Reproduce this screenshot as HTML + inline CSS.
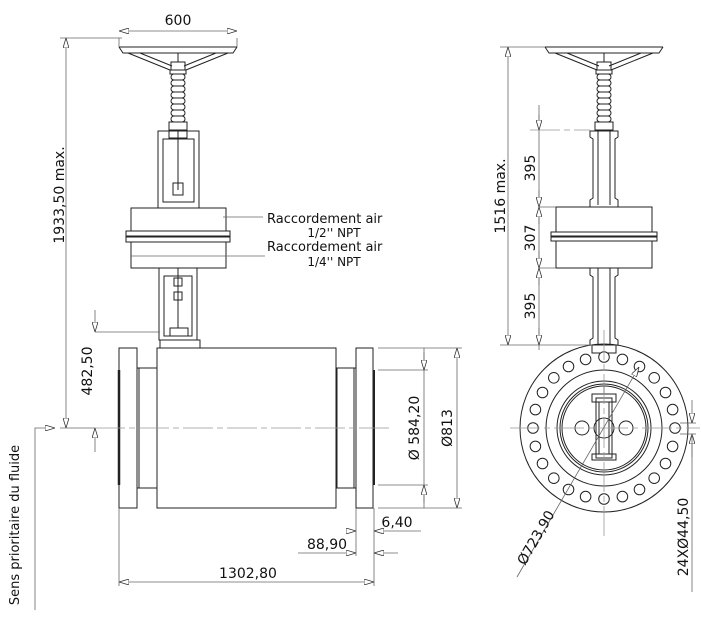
<!DOCTYPE html>
<html><head><meta charset="utf-8"><style>
html,body{margin:0;padding:0;background:#fff;}
svg{display:block;font-family:"DejaVu Sans","Liberation Sans",sans-serif;}
text{fill:#111;font-size:14px;}
</style></head><body>
<svg width="702" height="624" viewBox="0 0 702 624" xmlns="http://www.w3.org/2000/svg">
<defs>
<marker id="a" viewBox="0 0 10 6" refX="10" refY="3" markerWidth="10" markerHeight="6" orient="auto-start-reverse" markerUnits="userSpaceOnUse"><path d="M0,0 L10,3 L0,6 Z" fill="#fff" stroke="#333" stroke-width="0.8"/></marker>
</defs>
<g stroke="#222" stroke-width="1" fill="none">
<line x1="119" y1="47" x2="237" y2="47"/>
<path d="M119,47 L123,53 L233,53 L237,47"/>
<path d="M128,53 L170,70 M228,53 L186,70 M140,53 L172,66 M216,53 L184,66"/>
<line x1="178" y1="53" x2="178" y2="62"/>
<rect x="171" y="62" width="14" height="8"/>
<rect x="170" y="70" width="16" height="4"/>
<rect x="171" y="74" width="14" height="6" rx="3"/><rect x="171" y="80" width="14" height="6" rx="3"/><rect x="171" y="86" width="14" height="6" rx="3"/><rect x="171" y="92" width="14" height="6" rx="3"/><rect x="171" y="98" width="14" height="6" rx="3"/><rect x="171" y="104" width="14" height="6" rx="3"/><rect x="171" y="110" width="14" height="6" rx="3"/><rect x="171" y="116" width="14" height="6" rx="3"/><rect x="169" y="122" width="18" height="8"/>
<path d="M158,208 L158,131 L199,131 L199,208"/>
<rect x="163" y="139" width="31" height="63"/>
<line x1="178" y1="131" x2="178" y2="190"/>
<rect x="173" y="183" width="10" height="12"/>
<rect x="169" y="130" width="18" height="8"/>
<rect x="131" y="208" width="95" height="23"/>
<rect x="126" y="231" width="104" height="5"/>
<rect x="126" y="237" width="104" height="5"/>
<rect x="131" y="242" width="95" height="26"/>
<path d="M159,268 L159,340 L197,340 L197,268"/>
<rect x="164" y="276" width="28" height="60"/>
<line x1="178" y1="268" x2="178" y2="328"/>
<rect x="174" y="292" width="8" height="8"/><rect x="174" y="278" width="8" height="8"/>
<rect x="170" y="328" width="18" height="8"/>
<rect x="160" y="340" width="40" height="8"/>
<rect x="119" y="348" width="18" height="160"/>
<line x1="119" y1="370" x2="119" y2="485" stroke-width="2.5"/>
<rect x="137" y="368" width="20" height="120"/>
<line x1="139" y1="368" x2="139" y2="488"/>
<rect x="157" y="348" width="179" height="160"/>
<rect x="337" y="368" width="19" height="120"/>
<line x1="354" y1="368" x2="354" y2="488"/>
<rect x="356" y="348" width="17" height="160"/>
<line x1="374" y1="370" x2="374" y2="485" stroke-width="2"/>

<line x1="545" y1="47" x2="663" y2="47"/>
<path d="M545,47 L549,53 L659,53 L663,47"/>
<path d="M555,53 L597,70 M653,53 L611,70 M567,53 L599,66 M641,53 L609,66"/>
<line x1="604" y1="53" x2="604" y2="62"/>
<rect x="597" y="62" width="14" height="8"/>
<rect x="596" y="70" width="16" height="4"/>
<rect x="597" y="74" width="14" height="6" rx="3"/><rect x="597" y="80" width="14" height="6" rx="3"/><rect x="597" y="86" width="14" height="6" rx="3"/><rect x="597" y="92" width="14" height="6" rx="3"/><rect x="597" y="98" width="14" height="6" rx="3"/><rect x="597" y="104" width="14" height="6" rx="3"/><rect x="597" y="110" width="14" height="6" rx="3"/><rect x="597" y="116" width="14" height="6" rx="3"/><rect x="595" y="122" width="18" height="8"/>
<path d="M590,207 L590,200 L593,198 L593,139 L590,137 L590,131 L618,131 L618,137 L615,139 L615,198 L618,200 L618,207"/>
<line x1="598" y1="131" x2="598" y2="205"/><line x1="610" y1="131" x2="610" y2="205"/>
<rect x="556" y="207" width="96" height="25"/>
<rect x="551" y="232" width="106" height="4"/>
<rect x="551" y="237" width="106" height="4"/>
<rect x="556" y="241" width="96" height="27"/>
<path d="M590,268 L590,275 L593,277 L593,338 L590,340 L590,345 L618,345 L618,340 L615,338 L615,277 L618,275 L618,268"/>
<line x1="598" y1="268" x2="598" y2="345"/><line x1="610" y1="268" x2="610" y2="345"/>
<rect x="592" y="345" width="24" height="8"/>
<circle cx="604" cy="428" r="84"/>
<circle cx="604" cy="428" r="58"/>
<circle cx="604" cy="428" r="47"/>
<circle cx="604" cy="428" r="44"/>
<circle cx="604" cy="428" r="42"/>
<rect x="596" y="398" width="16" height="60"/>
<rect x="599" y="402" width="10" height="52"/>
<rect x="592" y="394" width="24" height="8"/>
<rect x="592" y="454" width="24" height="6"/>
<circle cx="582" cy="428" r="7"/>
<circle cx="626" cy="428" r="7"/>
<circle cx="604" cy="428" r="10"/>
<line x1="604" y1="385" x2="604" y2="394"/>
</g>
<g stroke="#222" fill="#fff" stroke-width="1">
<circle cx="675" cy="428" r="5.3"/><circle cx="672.6" cy="446.4" r="5.3"/><circle cx="665.5" cy="463.5" r="5.3"/><circle cx="654.2" cy="478.2" r="5.3"/><circle cx="639.5" cy="489.5" r="5.3"/><circle cx="622.4" cy="496.6" r="5.3"/><circle cx="604" cy="499" r="5.3"/><circle cx="585.6" cy="496.6" r="5.3"/><circle cx="568.5" cy="489.5" r="5.3"/><circle cx="553.8" cy="478.2" r="5.3"/><circle cx="542.5" cy="463.5" r="5.3"/><circle cx="535.4" cy="446.4" r="5.3"/><circle cx="533" cy="428" r="5.3"/><circle cx="535.4" cy="409.6" r="5.3"/><circle cx="542.5" cy="392.5" r="5.3"/><circle cx="553.8" cy="377.8" r="5.3"/><circle cx="568.5" cy="366.5" r="5.3"/><circle cx="585.6" cy="359.4" r="5.3"/><circle cx="604" cy="357" r="5.3"/><circle cx="622.4" cy="359.4" r="5.3"/><circle cx="639.5" cy="366.5" r="5.3"/><circle cx="654.2" cy="377.8" r="5.3"/><circle cx="665.5" cy="392.5" r="5.3"/><circle cx="672.6" cy="409.6" r="5.3"/>
</g>

<g stroke="#999" stroke-width="0.8" fill="none" stroke-dasharray="30,4,6,4">
<line x1="95" y1="428" x2="390" y2="428"/>
<line x1="510" y1="428" x2="700" y2="428"/>
<line x1="604" y1="330" x2="604" y2="540"/>
<line x1="530" y1="130" x2="590" y2="130"/>
</g>

<g stroke="#666" stroke-width="0.8" fill="none">
<line x1="119" y1="38" x2="119" y2="47"/><line x1="237" y1="38" x2="237" y2="47"/>
<line x1="119" y1="31" x2="237" y2="31" marker-start="url(#a)" marker-end="url(#a)"/>
<line x1="60" y1="38" x2="122" y2="38"/>
<line x1="66" y1="38" x2="66" y2="428" marker-start="url(#a)" marker-end="url(#a)"/>
<line x1="60" y1="428" x2="95" y2="428"/>
<line x1="95" y1="332" x2="160" y2="332"/>
<line x1="95" y1="310" x2="95" y2="332" marker-end="url(#a)"/>
<line x1="95" y1="428" x2="95" y2="452" marker-start="url(#a)"/>
<polyline points="35,610 35,428 55,428" marker-end="url(#a)"/>
<line x1="378" y1="348" x2="462" y2="348"/>
<line x1="378" y1="508" x2="462" y2="508"/>
<line x1="378" y1="370" x2="428" y2="370"/>
<line x1="378" y1="485" x2="428" y2="485"/>
<line x1="424" y1="348" x2="424" y2="508"/>
<line x1="424" y1="352" x2="424" y2="370" marker-end="url(#a)"/>
<line x1="424" y1="503" x2="424" y2="485" marker-end="url(#a)"/>
<line x1="457" y1="348" x2="457" y2="508" marker-start="url(#a)" marker-end="url(#a)"/>
<line x1="119" y1="508" x2="119" y2="586"/>
<line x1="374" y1="508" x2="374" y2="586"/>
<line x1="356" y1="508" x2="356" y2="556"/>
<line x1="119" y1="582" x2="374" y2="582" marker-start="url(#a)" marker-end="url(#a)"/>
<line x1="298" y1="553" x2="356" y2="553" marker-end="url(#a)"/>
<line x1="374" y1="553" x2="398" y2="553" marker-start="url(#a)"/>
<line x1="348" y1="531" x2="356" y2="531" marker-end="url(#a)"/>
<line x1="374" y1="531" x2="421" y2="531" marker-start="url(#a)"/>
<line x1="223" y1="217" x2="263" y2="217"/>
<line x1="131" y1="256" x2="265" y2="256"/>
<line x1="500" y1="47" x2="545" y2="47"/>
<line x1="500" y1="345" x2="592" y2="345"/>
<line x1="508" y1="47" x2="508" y2="345" marker-start="url(#a)" marker-end="url(#a)"/>
<line x1="539" y1="105" x2="539" y2="350"/>
<line x1="539" y1="115" x2="539" y2="130" marker-end="url(#a)"/>
<line x1="539" y1="207" x2="556" y2="207"/>
<line x1="539" y1="268" x2="556" y2="268"/>
<line x1="539" y1="190" x2="539" y2="207" marker-end="url(#a)"/>
<line x1="539" y1="224" x2="539" y2="207" marker-end="url(#a)"/>
<line x1="539" y1="251" x2="539" y2="268" marker-end="url(#a)"/>
<line x1="539" y1="285" x2="539" y2="268" marker-end="url(#a)"/>
<line x1="539" y1="328" x2="539" y2="345" marker-end="url(#a)"/>
<line x1="639" y1="367" x2="517" y2="577" marker-start="url(#a)"/>
<line x1="680" y1="423" x2="696" y2="423"/><line x1="680" y1="434" x2="696" y2="434"/>
<line x1="692" y1="400" x2="692" y2="423" marker-end="url(#a)"/>
<line x1="692" y1="457" x2="692" y2="434" marker-end="url(#a)"/>
<line x1="692" y1="434" x2="692" y2="592"/>
</g>

<text x="178" y="25" text-anchor="middle">600</text>
<text transform="translate(64,195) rotate(-90)" text-anchor="middle">1933,50 max.</text>
<text transform="translate(92,371) rotate(-90)" text-anchor="middle">482,50</text>
<text transform="translate(19,525) rotate(-90)" text-anchor="middle" style="font-size:13px">Sens prioritaire du fluide</text>
<text x="267" y="223" style="font-size:13px">Raccordement air</text>
<text x="334" y="237" text-anchor="middle" style="font-size:12px">1/2'' NPT</text>
<text x="267" y="251" style="font-size:13px">Raccordement air</text>
<text x="334" y="266" text-anchor="middle" style="font-size:12px">1/4'' NPT</text>
<text transform="translate(419,428) rotate(-90)" text-anchor="middle">Ø 584,20</text>
<text transform="translate(452,428) rotate(-90)" text-anchor="middle">Ø813</text>
<text x="397" y="527" text-anchor="middle">6,40</text>
<text x="327" y="549" text-anchor="middle">88,90</text>
<text x="248" y="578" text-anchor="middle">1302,80</text>
<text transform="translate(505,196) rotate(-90)" text-anchor="middle">1516 max.</text>
<text transform="translate(535,168) rotate(-90)" text-anchor="middle">395</text>
<text transform="translate(535,238) rotate(-90)" text-anchor="middle">307</text>
<text transform="translate(535,306) rotate(-90)" text-anchor="middle">395</text>
<text transform="translate(540,540) rotate(-60)" text-anchor="middle">Ø723,90</text>
<text transform="translate(688,537) rotate(-90)" text-anchor="middle">24XØ44,50</text>
</svg>
</body></html>
